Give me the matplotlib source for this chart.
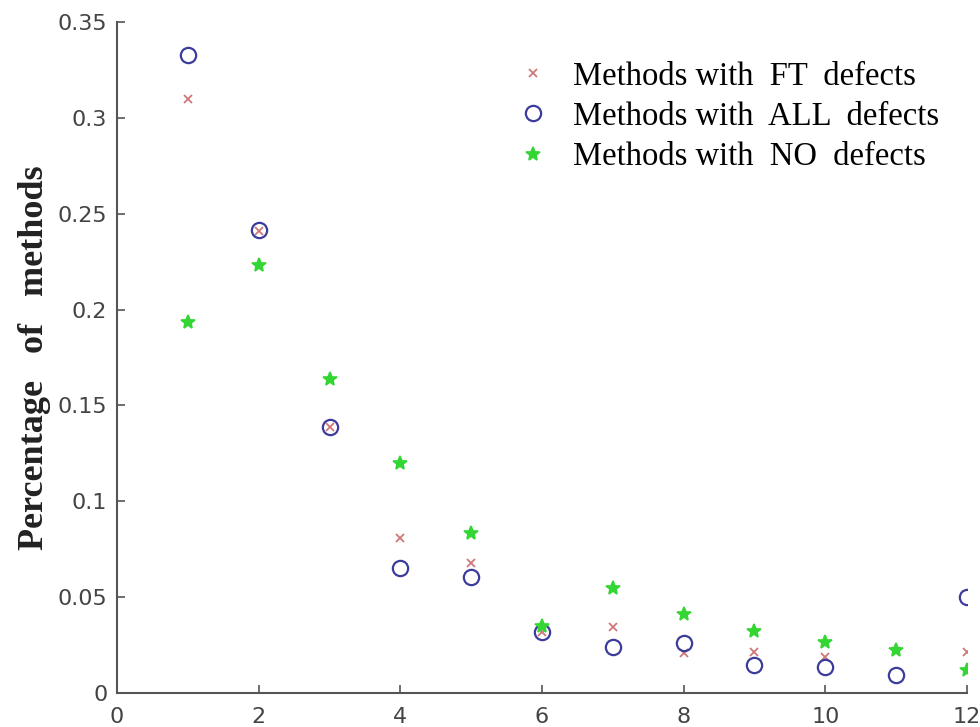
import numpy as np
import matplotlib.pyplot as plt

# ---- data ----
x = [1, 2, 3, 4, 5, 6, 7, 8, 9, 10, 11, 12]
ft_defects  = [0.310, 0.241, 0.139, 0.081, 0.068, 0.032, 0.0345, 0.021, 0.0215, 0.019, 0.022, 0.0215]
all_defects = [0.333, 0.2415, 0.139, 0.065, 0.0605, 0.032, 0.024, 0.026, 0.0146, 0.0136, 0.0094, 0.050]
no_defects  = [0.1935, 0.223, 0.164, 0.120, 0.0835, 0.035, 0.055, 0.041, 0.0325, 0.0267, 0.0224, 0.012]

labels = ["Methods with  FT  defects", "Methods with  ALL  defects", "Methods with  NO  defects"]
xticks = [0, 2, 4, 6, 8, 10, 12]
yticks = [0, 0.05, 0.1, 0.15, 0.2, 0.25, 0.3, 0.35]
ytick_labels = ["0", "0.05", "0.1", "0.15", "0.2", "0.25", "0.3", "0.35"]

fig = plt.figure(figsize=(9.8, 7.27), dpi=100)
ax = fig.add_axes([0.1194, 0.0468, 0.8673, 0.9229])

ax.plot(x, ft_defects, ls="none", marker="x", ms=5.5, mew=1.3, color="#d07878", label=labels[0])
ax.plot(x, all_defects, ls="none", marker="o", ms=11, mew=1.6, mfc="none", mec="#3c3c9c", label=labels[1])
ax.plot(x, no_defects, ls="none", marker="*", ms=10, mew=1.2, color="#33d633", label=labels[2])

ax.set_xlim(0, 12)
ax.set_ylim(0, 0.35)
ax.set_xticks(xticks)
ax.set_yticks(yticks)
ax.set_yticklabels(ytick_labels)

for s in ["top", "right"]:
    ax.spines[s].set_visible(False)
for s in ["left", "bottom"]:
    ax.spines[s].set_color("#555555")
    ax.spines[s].set_linewidth(1.5)

ax.tick_params(direction="in", length=6, width=1.2, color="#555555",
               labelcolor="#444444", labelsize=16)
ax.tick_params(axis="x", pad=10)
ax.tick_params(axis="y", pad=7)

ax.set_ylabel("Percentage   of   methods", family="Liberation Serif",
              fontsize=26, fontweight="bold", color="#222222", labelpad=5)

leg = ax.legend(loc="upper left", bbox_to_anchor=(0.5276, 0.916),
                bbox_transform=fig.transFigure, frameon=False,
                prop={"family": "Liberation Serif", "size": 23.5},
                handletextpad=0.7, labelspacing=0.3, borderaxespad=0,
                borderpad=0, handlelength=1.0)

fig.savefig("out.png", dpi=100)
